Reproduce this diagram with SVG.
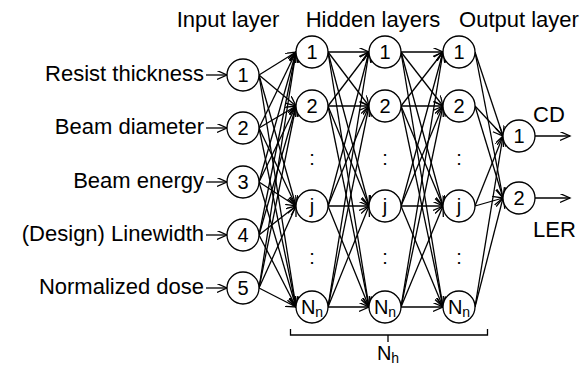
<svg xmlns="http://www.w3.org/2000/svg" width="586" height="370" viewBox="0 0 586 370">
<defs>
<marker id="ah" markerUnits="userSpaceOnUse" markerWidth="12" markerHeight="10" refX="10" refY="4.5" orient="auto">
<path d="M0,0 L10,4.5 L0,9" fill="none" stroke="#000" stroke-width="1.3"/>
</marker>
<style>
.t{font-family:"Liberation Sans",Arial,sans-serif;font-size:22px;fill:#000}
.n{font-family:"Liberation Sans",Arial,sans-serif;font-size:20px;fill:#000;text-anchor:middle}
.c{fill:#fff;stroke:#000;stroke-width:1.3}
#conn line{stroke:#000;stroke-width:1.3;marker-end:url(#ah)}
</style>
</defs>
<rect width="586" height="370" fill="#fff"/>
<g id="headers">
<text class="t" x="228" y="27" text-anchor="middle">Input layer</text>
<text class="t" x="373" y="27" text-anchor="middle">Hidden layers</text>
<text class="t" x="519" y="27" text-anchor="middle">Output layer</text>
</g>
<g id="conn">
<line x1="206" y1="75" x2="227" y2="75"/>
<line x1="206" y1="128" x2="227" y2="128"/>
<line x1="206" y1="182" x2="227" y2="182"/>
<line x1="206" y1="235" x2="227" y2="235"/>
<line x1="206" y1="288" x2="227" y2="288"/>
<line x1="259" y1="75" x2="296" y2="52"/><line x1="259" y1="75" x2="296" y2="106"/><line x1="259" y1="75" x2="296" y2="206"/><line x1="259" y1="75" x2="296" y2="307"/>
<line x1="259" y1="128" x2="296" y2="52"/><line x1="259" y1="128" x2="296" y2="106"/><line x1="259" y1="128" x2="296" y2="206"/><line x1="259" y1="128" x2="296" y2="307"/>
<line x1="259" y1="182" x2="296" y2="52"/><line x1="259" y1="182" x2="296" y2="106"/><line x1="259" y1="182" x2="296" y2="206"/><line x1="259" y1="182" x2="296" y2="307"/>
<line x1="259" y1="235" x2="296" y2="52"/><line x1="259" y1="235" x2="296" y2="106"/><line x1="259" y1="235" x2="296" y2="206"/><line x1="259" y1="235" x2="296" y2="307"/>
<line x1="259" y1="288" x2="296" y2="52"/><line x1="259" y1="288" x2="296" y2="106"/><line x1="259" y1="288" x2="296" y2="206"/><line x1="259" y1="288" x2="296" y2="307"/>
<line x1="328" y1="52" x2="369" y2="52"/><line x1="328" y1="52" x2="369" y2="106"/><line x1="328" y1="52" x2="369" y2="206"/><line x1="328" y1="52" x2="369" y2="307"/>
<line x1="328" y1="106" x2="369" y2="52"/><line x1="328" y1="106" x2="369" y2="106"/><line x1="328" y1="106" x2="369" y2="206"/><line x1="328" y1="106" x2="369" y2="307"/>
<line x1="328" y1="206" x2="369" y2="52"/><line x1="328" y1="206" x2="369" y2="106"/><line x1="328" y1="206" x2="369" y2="206"/><line x1="328" y1="206" x2="369" y2="307"/>
<line x1="328" y1="307" x2="369" y2="52"/><line x1="328" y1="307" x2="369" y2="106"/><line x1="328" y1="307" x2="369" y2="206"/><line x1="328" y1="307" x2="369" y2="307"/>
<line x1="401" y1="52" x2="443" y2="52"/><line x1="401" y1="52" x2="443" y2="106"/><line x1="401" y1="52" x2="443" y2="206"/><line x1="401" y1="52" x2="443" y2="307"/>
<line x1="401" y1="106" x2="443" y2="52"/><line x1="401" y1="106" x2="443" y2="106"/><line x1="401" y1="106" x2="443" y2="206"/><line x1="401" y1="106" x2="443" y2="307"/>
<line x1="401" y1="206" x2="443" y2="52"/><line x1="401" y1="206" x2="443" y2="106"/><line x1="401" y1="206" x2="443" y2="206"/><line x1="401" y1="206" x2="443" y2="307"/>
<line x1="401" y1="307" x2="443" y2="52"/><line x1="401" y1="307" x2="443" y2="106"/><line x1="401" y1="307" x2="443" y2="206"/><line x1="401" y1="307" x2="443" y2="307"/>
<line x1="475" y1="52" x2="503" y2="136"/><line x1="475" y1="52" x2="503" y2="198"/>
<line x1="475" y1="106" x2="503" y2="136"/><line x1="475" y1="106" x2="503" y2="198"/>
<line x1="475" y1="206" x2="503" y2="136"/><line x1="475" y1="206" x2="503" y2="198"/>
<line x1="475" y1="307" x2="503" y2="136"/><line x1="475" y1="307" x2="503" y2="198"/>
<line x1="535" y1="136" x2="570" y2="136"/>
<line x1="535" y1="198" x2="570" y2="198"/>
</g>
<g id="inputs">
<text class="t" x="204" y="81" text-anchor="end">Resist thickness</text>
<text class="t" x="204" y="134" text-anchor="end">Beam diameter</text>
<text class="t" x="204" y="188" text-anchor="end">Beam energy</text>
<text class="t" x="204" y="241" text-anchor="end">(Design) Linewidth</text>
<text class="t" x="204" y="294" text-anchor="end">Normalized dose</text>
</g>
<g id="in1"><circle class="c" cx="243" cy="75" r="16"/><text class="n" x="243" y="82">1</text></g>
<g id="in2"><circle class="c" cx="243" cy="128" r="16"/><text class="n" x="243" y="135">2</text></g>
<g id="in3"><circle class="c" cx="243" cy="182" r="16"/><text class="n" x="243" y="189">3</text></g>
<g id="in4"><circle class="c" cx="243" cy="235" r="16"/><text class="n" x="243" y="242">4</text></g>
<g id="in5"><circle class="c" cx="243" cy="288" r="16"/><text class="n" x="243" y="295">5</text></g>
<g id="h1_1"><circle class="c" cx="312" cy="52" r="16"/><text class="n" x="312" y="59">1</text></g>
<g id="h1_2"><circle class="c" cx="312" cy="106" r="16"/><text class="n" x="312" y="113">2</text></g>
<g id="h1_j"><circle class="c" cx="312" cy="206" r="16"/><text class="n" x="312" y="213">j</text></g>
<g id="h1_n"><circle class="c" cx="312" cy="307" r="16"/><text class="n" x="312" y="314">N<tspan font-size="14" dy="3">n</tspan></text></g>
<g id="h2_1"><circle class="c" cx="385" cy="52" r="16"/><text class="n" x="385" y="59">1</text></g>
<g id="h2_2"><circle class="c" cx="385" cy="106" r="16"/><text class="n" x="385" y="113">2</text></g>
<g id="h2_j"><circle class="c" cx="385" cy="206" r="16"/><text class="n" x="385" y="213">j</text></g>
<g id="h2_n"><circle class="c" cx="385" cy="307" r="16"/><text class="n" x="385" y="314">N<tspan font-size="14" dy="3">n</tspan></text></g>
<g id="h3_1"><circle class="c" cx="459" cy="52" r="16"/><text class="n" x="459" y="59">1</text></g>
<g id="h3_2"><circle class="c" cx="459" cy="106" r="16"/><text class="n" x="459" y="113">2</text></g>
<g id="h3_j"><circle class="c" cx="459" cy="206" r="16"/><text class="n" x="459" y="213">j</text></g>
<g id="h3_n"><circle class="c" cx="459" cy="307" r="16"/><text class="n" x="459" y="314">N<tspan font-size="14" dy="3">n</tspan></text></g>
<g id="dots">
<text class="n" x="312" y="165">:</text><text class="n" x="385" y="165">:</text><text class="n" x="459" y="165">:</text>
<text class="n" x="312" y="264">:</text><text class="n" x="385" y="264">:</text><text class="n" x="459" y="264">:</text>
</g>
<g id="out1"><circle class="c" cx="519" cy="136" r="16"/><text class="n" x="519" y="143">1</text></g>
<g id="out2"><circle class="c" cx="519" cy="198" r="16"/><text class="n" x="519" y="205">2</text></g>
<g id="outlabels">
<text class="t" x="533" y="122">CD</text>
<text class="t" x="533" y="237">LER</text>
</g>
<g id="bracket">
<path d="M290.5,329 V335 H487.5 V329 M388,335 V342" fill="none" stroke="#000" stroke-width="1.3"/>
<text class="n" x="388" y="360">N<tspan font-size="14" dy="3">h</tspan></text>
</g>
</svg>
